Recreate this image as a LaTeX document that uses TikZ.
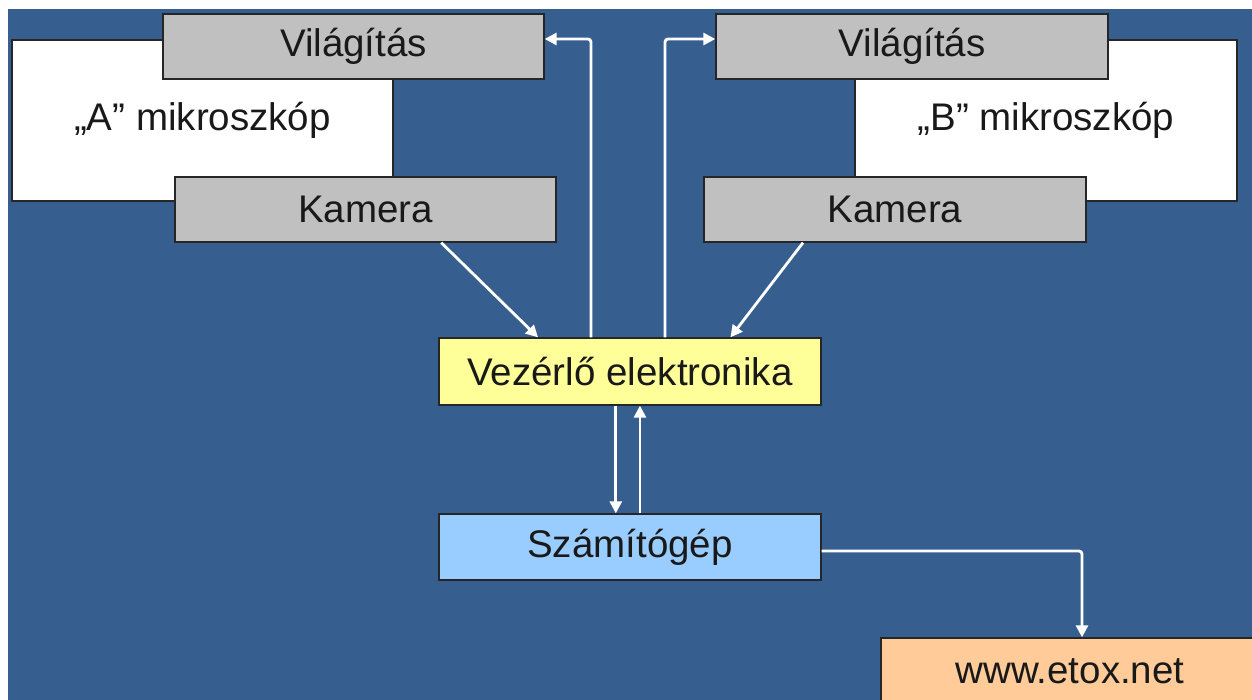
\documentclass[tikz,border=0pt]{standalone}
\usepackage{fontspec}
\setmainfont{Liberation Sans}
\usetikzlibrary{arrows.meta,calc}
\definecolor{bgblue}{RGB}{54,94,143}
\definecolor{boxgray}{RGB}{192,192,192}
\definecolor{boxyellow}{RGB}{255,255,153}
\definecolor{boxblue}{RGB}{153,204,255}
\definecolor{boxorange}{RGB}{255,204,153}
\tikzset{
  box/.style={draw=black!85, line width=1.3pt, rectangle, inner sep=0pt,
    font=\fontsize{38.5}{46}\selectfont, text=black!90},
  arr/.style={draw=white, line width=2.8pt, rounded corners=3pt,
    -{Triangle[length=12pt,width=12pt,fill=white]}}
}
\begin{document}
\begin{tikzpicture}[x=1pt,y=-1pt]
\useasboundingbox (0,0) rectangle (1252,699);
\clip (0,0) rectangle (1252,699);
\fill[white] (0,0) rectangle (1252,699);
\fill[bgblue] (8,9) rectangle (1260,710);
% microscopes
\node[box, fill=white, minimum width=381pt, minimum height=161pt] (micA) at (202.5,120.5) {„A” mikroszkóp};
\node[box, fill=white, minimum width=382pt, minimum height=161pt] (micB) at (1046,120.5) {„B” mikroszkóp};
% lighting
\node[box, fill=boxgray, minimum width=381pt, minimum height=65pt] (vilA) at (353.5,46.5) {Világítás};
\node[box, fill=boxgray, minimum width=392pt, minimum height=65pt] (vilB) at (912,46.5) {Világítás};
% cameras
\node[box, fill=boxgray, minimum width=381pt, minimum height=65pt] (kamA) at (365.5,209.5) {Kamera};
\node[box, fill=boxgray, minimum width=382pt, minimum height=65pt] (kamB) at (895,209.5) {Kamera};
% controller, computer, web
\node[box, fill=boxyellow, minimum width=382pt, minimum height=67pt] (vez) at (630,371.5) {Vezérlő elektronika};
\node[box, fill=boxblue, minimum width=382pt, minimum height=66pt] (szam) at (630,547) {Számítógép};
\node[box, fill=boxorange, minimum width=378pt, minimum height=66pt] (etox) at (1070,671) {www.etox.net};
% bends
\coordinate (ta) at (591,39);
\coordinate (tb) at (665,39);
\coordinate (tc) at (1082,551);
% connectors
\draw[arr] ($(kamA.south west)!0.698!(kamA.south east)$) -- ($(vez.north west)!0.26!(vez.north east)$);
\draw[arr] ($(kamB.south west)!0.26!(kamB.south east)$) -- ($(vez.north west)!0.762!(vez.north east)$);
\draw[arr] (vez.north -| ta) -- (ta) -- (vilA.east |- ta);
\draw[arr] (vez.north -| tb) -- (tb) -- (vilB.west |- tb);
\draw[arr] ($(vez.south west)!0.463!(vez.south east)$) -- ($(szam.north west)!0.463!(szam.north east)$);
\draw[arr] ($(szam.north west)!0.526!(szam.north east)$) -- ($(vez.south west)!0.526!(vez.south east)$);
\draw[arr] (szam.east |- tc) -- (tc) -- (etox.north -| tc);
\end{tikzpicture}
\end{document}
